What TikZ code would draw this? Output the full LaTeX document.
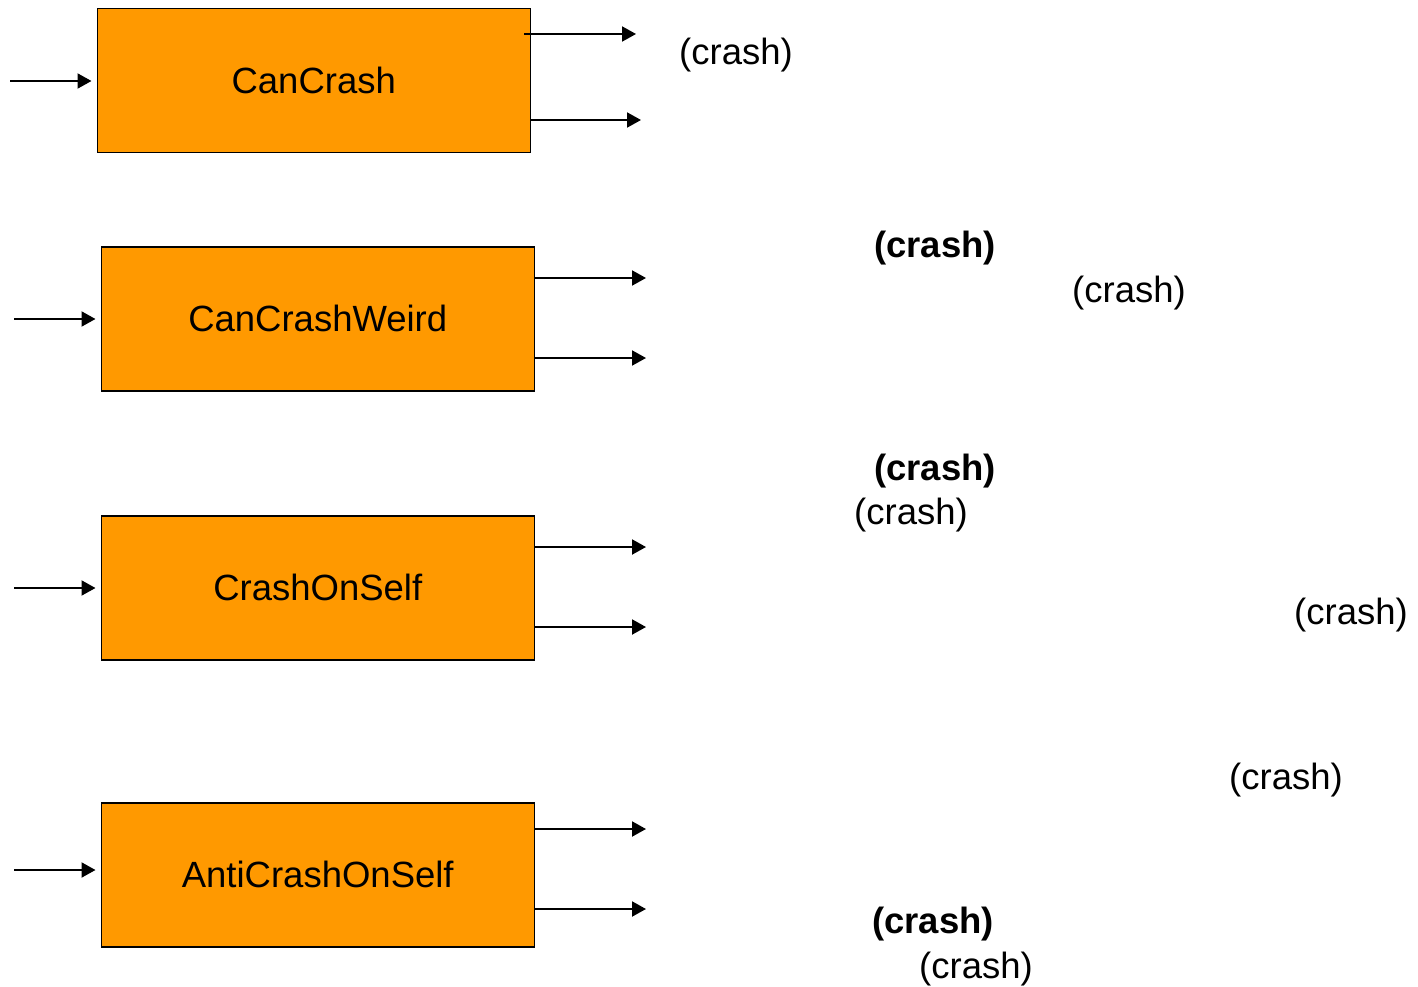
\documentclass[tikz,border=0pt]{standalone}
\usepackage{fontspec}
\setmainfont{Liberation Sans}
\usetikzlibrary{arrows.meta}
\definecolor{boxorange}{RGB}{255,153,0}
\begin{document}
\begin{tikzpicture}[x=1pt,y=-1pt,
  procbox/.style={draw=black,line width=1.5pt,fill=boxorange,minimum width=433pt,minimum height=144pt,inner sep=0pt,anchor=north west,font=\fontsize{36.5}{44}\selectfont},
  arr/.style={line width=2pt,-{Triangle[length=14pt,width=15pt]}},
  lbl/.style={inner sep=0pt,font=\fontsize{36.5}{44}\selectfont},
  blbl/.style={lbl,font=\fontsize{36.5}{44}\selectfont\bfseries}]
\useasboundingbox (0,0) rectangle (1418,987);
% boxes
\node[procbox] (b1) at (96.5,8) {CanCrash};
\node[procbox] (b2) at (100.5,246) {CanCrashWeird};
\node[procbox] (b3) at (100.5,515) {CrashOnSelf};
\node[procbox] (b4) at (100.5,802) {AntiCrashOnSelf};
% input ends
\coordinate (i1) at (10,81);
\coordinate (i2) at (14,319);
\coordinate (i3) at (14,588);
\coordinate (i4) at (14,870);
% output ends
\coordinate (o1a) at (636,34);
\coordinate (o1b) at (641,120);
\coordinate (o2a) at (646,278);
\coordinate (o2b) at (646,358);
\coordinate (o3a) at (646,547);
\coordinate (o3b) at (646,627);
\coordinate (o4a) at (646,829);
\coordinate (o4b) at (646,909);
% inputs
\draw[arr] (i1) -- ([xshift=-5pt]b1.west |- i1);
\draw[arr] (i2) -- ([xshift=-5pt]b2.west |- i2);
\draw[arr] (i3) -- ([xshift=-5pt]b3.west |- i3);
\draw[arr] (i4) -- ([xshift=-5pt]b4.west |- i4);
% outputs
\draw[arr] ([xshift=-7pt]b1.east |- o1a) -- (o1a);
\draw[arr] (b1.east |- o1b) -- (o1b);
\draw[arr] (b2.east |- o2a) -- (o2a);
\draw[arr] (b2.east |- o2b) -- (o2b);
\draw[arr] (b3.east |- o3a) -- (o3a);
\draw[arr] (b3.east |- o3b) -- (o3b);
\draw[arr] (b4.east |- o4a) -- (o4a);
\draw[arr] (b4.east |- o4b) -- (o4b);
% labels
\node[lbl] (l1) at (736,55) {(crash)};
\node[blbl] (l2) at (935,248) {(crash)};
\node[lbl] (l3) at (1129,293) {(crash)};
\node[blbl] (l4) at (935,471) {(crash)};
\node[lbl] (l5) at (911,515) {(crash)};
\node[lbl] (l6) at (1351,615) {(crash)};
\node[lbl] (l7) at (1286,780) {(crash)};
\node[blbl] (l8) at (933,924) {(crash)};
\node[lbl] (l9) at (976,969) {(crash)};
\end{tikzpicture}
\end{document}
